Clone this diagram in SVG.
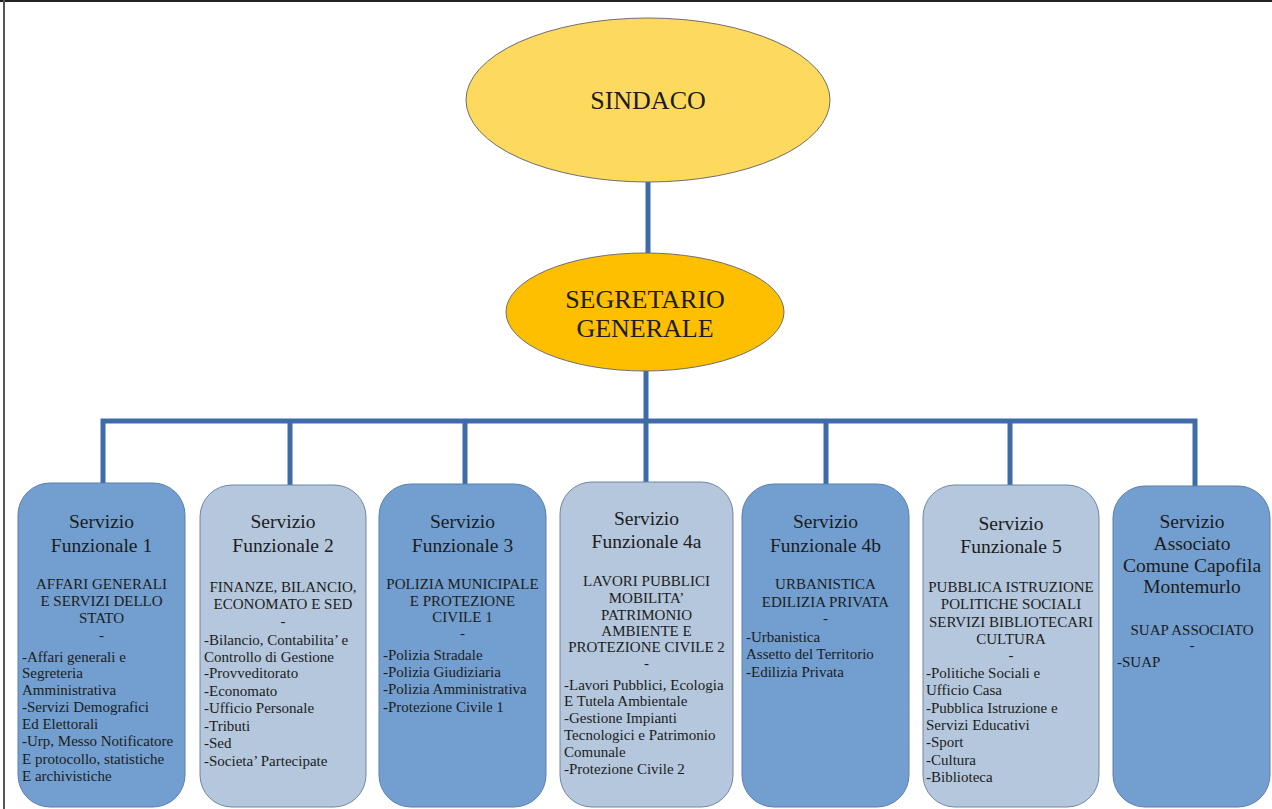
<svg xmlns="http://www.w3.org/2000/svg" width="1272" height="809" viewBox="0 0 1272 809">
<style>
text{font-family:"Liberation Serif","Times New Roman",serif;fill:#1c1c1c}
.t{font-size:19.5px;text-anchor:middle}
.h{font-size:15px;text-anchor:middle}
.l{font-size:15px}
.big{font-size:26px;text-anchor:middle}
.dk{fill:#729fcf;stroke:#5a7fae;stroke-width:1}
.lt{fill:#b4c7dc;stroke:#6f86a6;stroke-width:1}
.conn{stroke:#3f6ba9;stroke-width:5;fill:none}
</style>
<rect x="0" y="0" width="1272" height="809" fill="#ffffff"/>
<line x1="0" y1="1" x2="1272" y2="1" stroke="#222" stroke-width="2"/>
<line x1="4" y1="0" x2="4" y2="809" stroke="#555" stroke-width="2"/>
<g id="connectors">
<line class="conn" x1="648" y1="180" x2="648" y2="255"/>
<line class="conn" x1="646" y1="371" x2="646" y2="482"/>
<polyline class="conn" points="103,484 103,421 1195,421 1195,487"/>
<line class="conn" x1="290" y1="421" x2="290" y2="485"/>
<line class="conn" x1="465" y1="421" x2="465" y2="484"/>
<line class="conn" x1="826" y1="421" x2="826" y2="484"/>
<line class="conn" x1="1010" y1="421" x2="1010" y2="486"/>
</g>
<g id="sindaco">
<ellipse cx="648" cy="100" rx="182" ry="82" fill="#fdd95e" stroke="#6e6e6e" stroke-width="1"/>
<text class="big" x="648" y="109">SINDACO</text>
</g>
<g id="segretario">
<ellipse cx="645" cy="312" rx="139" ry="59" fill="#fdbf00" stroke="#6e6e6e" stroke-width="1"/>
<text class="big" x="645" y="308">SEGRETARIO</text>
<text class="big" x="645" y="337">GENERALE</text>
</g>
<g id="sf1">
<rect class="dk" x="18" y="483" width="167" height="324" rx="32"/>
<text class="t" x="101.5" y="528">Servizio</text>
<text class="t" x="101.5" y="552">Funzionale 1</text>
<text class="h" x="101.5" y="589">AFFARI GENERALI</text>
<text class="h" x="101.5" y="606">E SERVIZI DELLO</text>
<text class="h" x="101.5" y="623">STATO</text>
<text class="h" x="101.5" y="640">-</text>
<text class="l" x="22" y="662">-Affari generali e</text>
<text class="l" x="22" y="678">Segreteria</text>
<text class="l" x="22" y="695">Amministrativa</text>
<text class="l" x="22" y="712">-Servizi Demografici</text>
<text class="l" x="22" y="729">Ed Elettorali</text>
<text class="l" x="22" y="746">-Urp, Messo Notificatore</text>
<text class="l" x="22" y="764">E protocollo, statistiche</text>
<text class="l" x="22" y="781">E archivistiche</text>
</g>
<g id="sf2">
<rect class="lt" x="200" y="485" width="166" height="322" rx="32"/>
<text class="t" x="283" y="528">Servizio</text>
<text class="t" x="283" y="552">Funzionale 2</text>
<text class="h" x="283" y="592">FINANZE, BILANCIO,</text>
<text class="h" x="283" y="609">ECONOMATO E SED</text>
<text class="h" x="283" y="626">-</text>
<text class="l" x="204" y="645">-Bilancio, Contabilita’ e</text>
<text class="l" x="204" y="662">Controllo di Gestione</text>
<text class="l" x="204" y="678">-Provveditorato</text>
<text class="l" x="204" y="696">-Economato</text>
<text class="l" x="204" y="713">-Ufficio Personale</text>
<text class="l" x="204" y="731">-Tributi</text>
<text class="l" x="204" y="748">-Sed</text>
<text class="l" x="204" y="766">-Societa’ Partecipate</text>
</g>
<g id="sf3">
<rect class="dk" x="379" y="484" width="167" height="323" rx="32"/>
<text class="t" x="462.5" y="528">Servizio</text>
<text class="t" x="462.5" y="552">Funzionale 3</text>
<text class="h" x="462.5" y="589">POLIZIA MUNICIPALE</text>
<text class="h" x="462.5" y="606">E PROTEZIONE</text>
<text class="h" x="462.5" y="622">CIVILE 1</text>
<text class="h" x="462.5" y="638">-</text>
<text class="l" x="383" y="660">-Polizia Stradale</text>
<text class="l" x="383" y="677">-Polizia Giudiziaria</text>
<text class="l" x="383" y="694">-Polizia Amministrativa</text>
<text class="l" x="383" y="712">-Protezione Civile 1</text>
</g>
<g id="sf4a">
<rect class="lt" x="560" y="482" width="173" height="325" rx="32"/>
<text class="t" x="646.5" y="525">Servizio</text>
<text class="t" x="646.5" y="548">Funzionale 4a</text>
<text class="h" x="646.5" y="586">LAVORI PUBBLICI</text>
<text class="h" x="646.5" y="603">MOBILITA’</text>
<text class="h" x="646.5" y="620">PATRIMONIO</text>
<text class="h" x="646.5" y="636">AMBIENTE E</text>
<text class="h" x="646.5" y="652">PROTEZIONE CIVILE 2</text>
<text class="h" x="646.5" y="668">-</text>
<text class="l" x="564" y="690">-Lavori Pubblici, Ecologia</text>
<text class="l" x="564" y="706">E Tutela Ambientale</text>
<text class="l" x="564" y="723">-Gestione Impianti</text>
<text class="l" x="564" y="740">Tecnologici e Patrimonio</text>
<text class="l" x="564" y="757">Comunale</text>
<text class="l" x="564" y="774">-Protezione Civile 2</text>
</g>
<g id="sf4b">
<rect class="dk" x="742" y="484" width="167" height="323" rx="32"/>
<text class="t" x="825.5" y="528">Servizio</text>
<text class="t" x="825.5" y="552">Funzionale 4b</text>
<text class="h" x="825.5" y="589">URBANISTICA</text>
<text class="h" x="825.5" y="607">EDILIZIA PRIVATA</text>
<text class="h" x="825.5" y="623">-</text>
<text class="l" x="746" y="642">-Urbanistica</text>
<text class="l" x="746" y="659">Assetto del Territorio</text>
<text class="l" x="746" y="677">-Edilizia Privata</text>
</g>
<g id="sf5">
<rect class="lt" x="923" y="485" width="176" height="322" rx="32"/>
<text class="t" x="1011" y="530">Servizio</text>
<text class="t" x="1011" y="553">Funzionale 5</text>
<text class="h" x="1011" y="592">PUBBLICA ISTRUZIONE</text>
<text class="h" x="1011" y="609">POLITICHE SOCIALI</text>
<text class="h" x="1011" y="627">SERVIZI BIBLIOTECARI</text>
<text class="h" x="1011" y="644">CULTURA</text>
<text class="h" x="1011" y="660">-</text>
<text class="l" x="926" y="678">-Politiche Sociali e</text>
<text class="l" x="926" y="695">Ufficio Casa</text>
<text class="l" x="926" y="713">-Pubblica Istruzione e</text>
<text class="l" x="926" y="730">Servizi Educativi</text>
<text class="l" x="926" y="747">-Sport</text>
<text class="l" x="926" y="765">-Cultura</text>
<text class="l" x="926" y="782">-Biblioteca</text>
</g>
<g id="suap">
<rect class="dk" x="1113" y="486" width="157" height="321" rx="32"/>
<text class="t" x="1192" y="528">Servizio</text>
<text class="t" x="1192" y="550">Associato</text>
<text class="t" x="1192" y="572">Comune Capofila</text>
<text class="t" x="1192" y="593">Montemurlo</text>
<text class="h" x="1192" y="635">SUAP ASSOCIATO</text>
<text class="h" x="1192" y="650">-</text>
<text class="l" x="1117" y="667">-SUAP</text>
</g>
</svg>
